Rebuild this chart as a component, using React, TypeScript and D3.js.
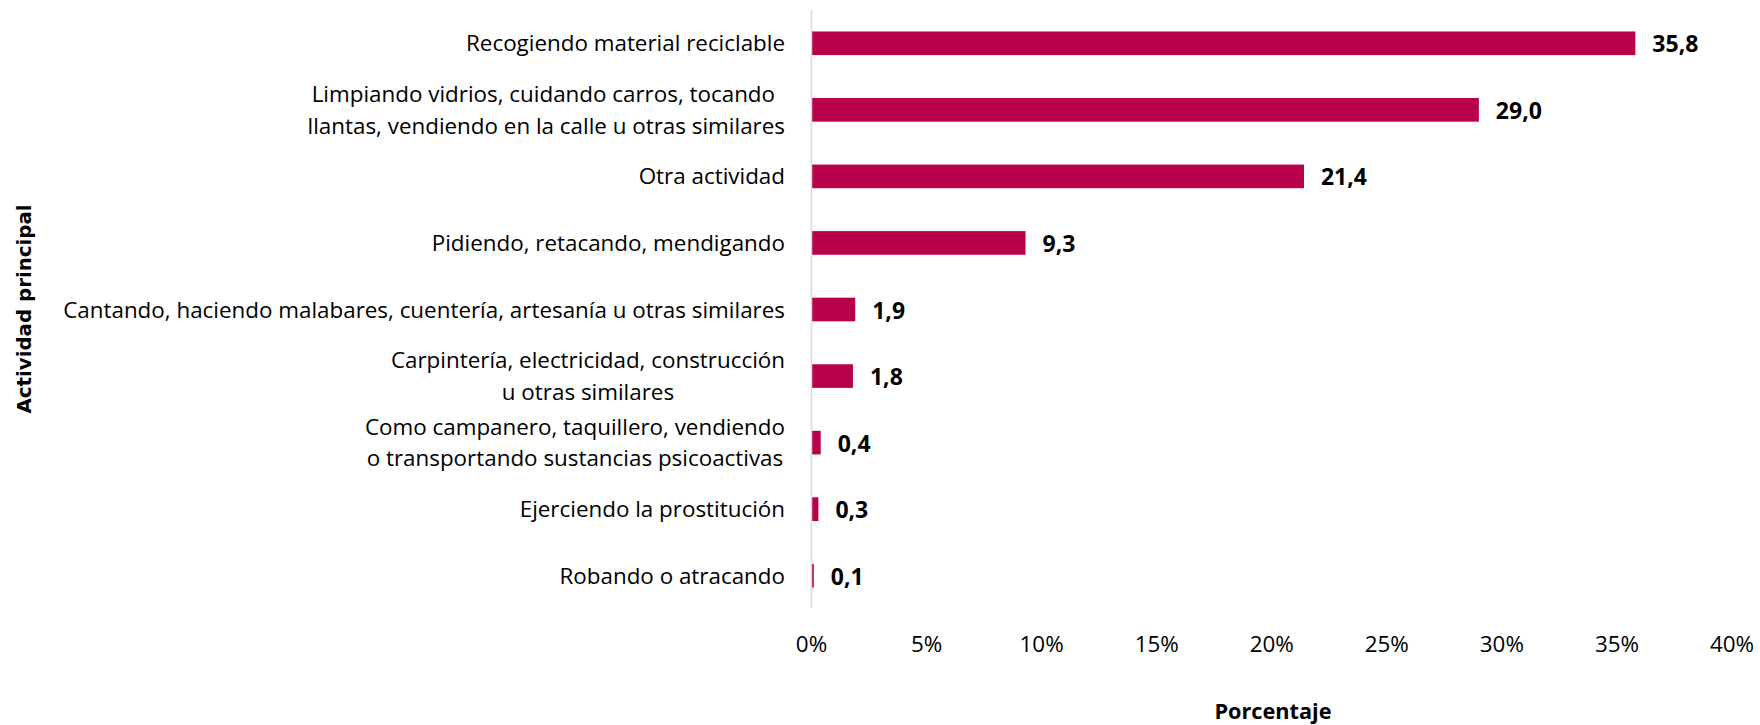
import React, { useEffect, useRef } from "react";
import * as d3 from "d3";

const categories: string[][] = [
  ["Recogiendo material reciclable"],
  ["Limpiando vidrios, cuidando carros, tocando ", "llantas, vendiendo en la calle u otras similares"],
  ["Otra actividad"],
  ["Pidiendo, retacando, mendigando"],
  ["Cantando, haciendo malabares, cuentería, artesanía u otras similares"],
  ["Carpintería, electricidad, construcción", "u otras similares"],
  ["Como campanero, taquillero, vendiendo", "o transportando sustancias psicoactivas"],
  ["Ejerciendo la prostitución"],
  ["Robando o atracando"],
];
const values: number[] = [35.8, 29.0, 21.4, 9.3, 1.9, 1.8, 0.4, 0.3, 0.1];
const xTicks: number[] = [0, 5, 10, 15, 20, 25, 30, 35, 40];
const xTitle = "Porcentaje";
const yTitle = "Actividad principal";

const W = 1760;
const H = 725;
const BAR = "#B8004B";
const FONT = "'Open Sans', 'Noto Sans', sans-serif";

export default function App() {
  const ref = useRef<SVGSVGElement | null>(null);

  useEffect(() => {
    const svg = d3.select(ref.current);
    svg.selectAll("*").remove();

    const x = d3.scaleLinear().domain([0, 40]).range([811.5, 1732]);
    const keys = categories.map((_, i) => String(i));
    const y = d3
      .scaleBand<string>()
      .domain(keys)
      .range([10, 609])
      .paddingInner(0.645)
      .paddingOuter(0.3225);

    // bars
    svg
      .append("g")
      .selectAll("rect")
      .data(values)
      .join("rect")
      .attr("x", x(0))
      .attr("y", (_, i) => y(String(i))!)
      .attr("width", (d) => x(d) - x(0))
      .attr("height", y.bandwidth())
      .attr("fill", BAR);

    // axis line
    svg
      .append("line")
      .attr("x1", x(0))
      .attr("x2", x(0))
      .attr("y1", 10)
      .attr("y2", 608)
      .attr("stroke", "#d9d9d9")
      .attr("stroke-width", 1.5);

    // value labels
    svg
      .append("g")
      .selectAll("text")
      .data(values)
      .join("text")
      .attr("x", (d) => x(d) + 17)
      .attr("y", (_, i) => y(String(i))! + y.bandwidth() / 2 + 9)
      .attr("font-family", FONT)
      .attr("font-weight", 700)
      .attr("font-size", 23)
      .attr("fill", "#000")
      .text((d) => d.toFixed(1).replace(".", ","));

    // category labels
    const right = 785;
    const lh = 31.4;
    const cg = svg.append("g");
    categories.forEach((lines, i) => {
      const cy = y(String(i))! + y.bandwidth() / 2;
      const g = cg.append("g");
      const texts = lines.map((ln, j) =>
        g
          .append("text")
          .attr("x", right)
          .attr("y", cy + (j - (lines.length - 1) / 2) * lh + 8)
          .attr("text-anchor", "end")
          .attr("font-family", FONT)
          .attr("font-size", 22.4)
          .attr("fill", "#000")
          .attr("xml:space", "preserve")
          .style("white-space", "pre")
          .text(ln)
      );
      if (lines.length > 1) {
        const widths = texts.map((t) => (t.node() as SVGTextElement).getComputedTextLength());
        const maxW = Math.max(...widths);
        texts.forEach((t) => t.attr("text-anchor", "middle").attr("x", right - maxW / 2));
      }
    });

    // tick labels
    svg
      .append("g")
      .selectAll("text")
      .data(xTicks)
      .join("text")
      .attr("x", (d) => x(d))
      .attr("y", 652)
      .attr("text-anchor", "middle")
      .attr("font-family", FONT)
      .attr("font-size", 22.4)
      .attr("fill", "#000")
      .text((d) => `${d}%`);

    // axis titles
    svg
      .append("text")
      .attr("x", 1273)
      .attr("y", 719)
      .attr("text-anchor", "middle")
      .attr("font-family", FONT)
      .attr("font-weight", 700)
      .attr("font-size", 21.7)
      .attr("fill", "#000")
      .text(xTitle);

    svg
      .append("text")
      .attr("transform", "translate(31,309) rotate(-90)")
      .attr("text-anchor", "middle")
      .attr("font-family", "'DejaVu Sans', sans-serif")
      .attr("font-weight", 700)
      .attr("font-size", 19.8)
      .attr("fill", "#000")
      .text(yTitle);
  }, []);

  return (
    <svg
      ref={ref}
      width={W}
      height={H}
      style={{ position: "absolute", left: 0, top: 0, background: "#fff" }}
    />
  );
}
